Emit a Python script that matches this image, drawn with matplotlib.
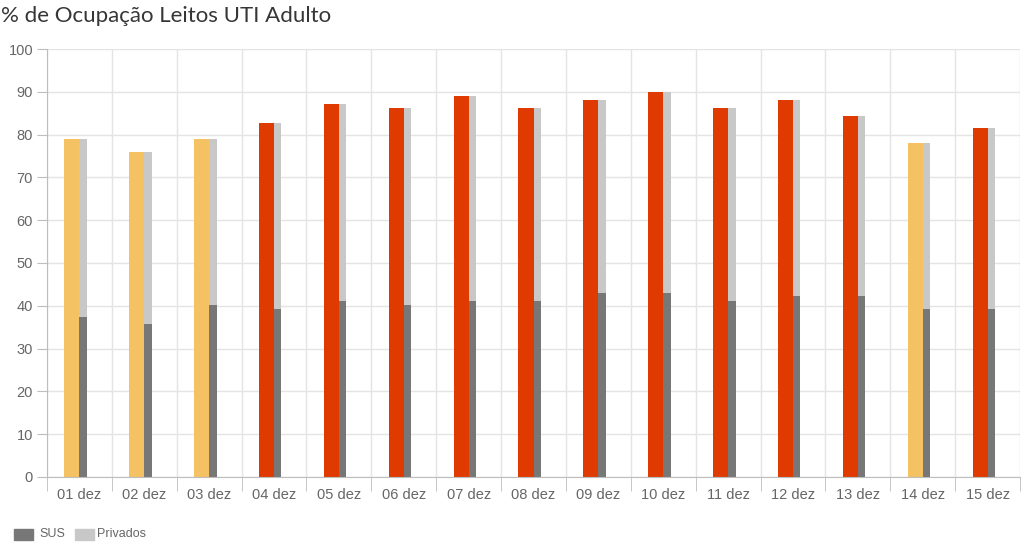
import numpy as np
import matplotlib
matplotlib.use('Agg')
import matplotlib.pyplot as plt

plt.rcParams['font.family'] = ['Liberation Sans', 'DejaVu Sans']

dias = ["01 dez", "02 dez", "03 dez", "04 dez", "05 dez", "06 dez", "07 dez", "08 dez",
        "09 dez", "10 dez", "11 dez", "12 dez", "13 dez", "14 dez", "15 dez"]
ocupacao = [78.9, 76.0, 78.9, 82.6, 87.1, 86.1, 89.0, 86.1, 88.0, 89.9, 86.1, 88.1, 84.4, 78.0, 81.6]
sus = [37.5, 35.7, 40.3, 39.3, 41.2, 40.3, 41.2, 41.2, 43.1, 43.1, 41.2, 42.2, 42.2, 39.2, 39.2]
limite = 80

amarelo = '#f4c263'
vermelho = '#df3a00'
cinza_claro = '#c8c8c8'
cinza_escuro = '#777777'
grade = '#e4e4e4'
eixo = '#bdbdbd'
texto = '#666666'

W, H = 1024, 552
fig = plt.figure(figsize=(W / 100, H / 100), dpi=100)
ax = fig.add_axes([47 / W, (H - 477) / H, 973 / W, 428 / H])

x = np.arange(len(dias))
cores = [vermelho if v >= limite else amarelo for v in ocupacao]
# coloured bar to the left of the centre, grey bars to the right
ax.bar(x - 0.232, ocupacao, width=0.232, align='edge', color=cores, zorder=3)
ax.bar(x, ocupacao, width=0.115, align='edge', color=cinza_claro, zorder=3)
ax.bar(x, sus, width=0.115, align='edge', color=cinza_escuro, zorder=4)

ax.set_xlim(-0.5, len(dias) - 0.5)
ax.set_ylim(0, 100)
ax.set_yticks(range(0, 101, 10))
ax.set_xticks(x)
ax.set_xticklabels(dias)
ax.set_xticks(np.arange(-0.5, len(dias), 1), minor=True)

ax.grid(axis='y', color=grade, linewidth=1, zorder=0)
ax.grid(axis='x', which='minor', color=grade, linewidth=1, zorder=0)
ax.grid(axis='x', which='major', visible=False)

for s in ['top', 'right']:
    ax.spines[s].set_visible(False)
for s in ['left', 'bottom']:
    ax.spines[s].set_color(eixo)
    ax.spines[s].set_zorder(5)

ax.tick_params(axis='y', length=7, color=eixo, labelcolor=texto, labelsize=10.5, pad=3)
ax.tick_params(axis='x', which='major', length=0, labelcolor=texto, labelsize=10.5, pad=8)
ax.tick_params(axis='x', which='minor', length=10, color=eixo)

fig.text(1 / W, 1 - 16 / H, "% de Ocupação Leitos UTI Adulto", fontsize=16,
         family='Lato', color='#363636', va='center', ha='left')

# legenda
fig.patches.append(plt.Rectangle((14 / W, 1 - 540 / H), 19 / W, 11 / H,
                                 color=cinza_escuro, transform=fig.transFigure, figure=fig))
fig.text(39 / W, 1 - 534 / H, "SUS", fontsize=9, color=texto, va='center')
fig.patches.append(plt.Rectangle((75 / W, 1 - 540 / H), 19 / W, 11 / H,
                                 color=cinza_claro, transform=fig.transFigure, figure=fig))
fig.text(97 / W, 1 - 534 / H, "Privados", fontsize=9, color=texto, va='center')

fig.savefig("out.png", dpi=100)
